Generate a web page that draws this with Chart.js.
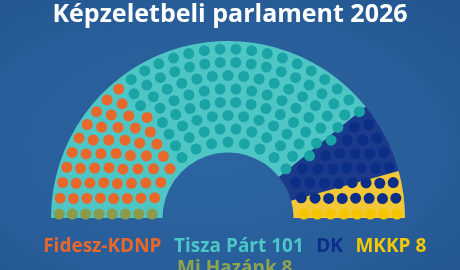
<!DOCTYPE html>
<html>
<head>
<meta charset="utf-8">
<script src="https://cdn.jsdelivr.net/npm/chart.js@4.4.1/dist/chart.umd.min.js"></script>
<style>
html,body{margin:0;padding:0;}
body{width:460px;height:270px;overflow:hidden;position:relative;
  background:radial-gradient(ellipse at 45% 55%, #2c65a2 0%, #285e9a 60%, #23558e 100%);}
#bands{position:absolute;left:51px;top:41px;}
#seats{position:absolute;left:0;top:0;}
</style>
</head>
<body>
<canvas id="bands" width="354" height="177"></canvas>
<canvas id="seats" width="460" height="270"></canvas>
<script>
// seats per party, left to right in the hemicycle
var parties = ['Mi Hazánk', 'Fidesz-KDNP', 'Tisza Párt', 'DK', 'MKKP'];
var seats = [8, 49, 101, 33, 8];
var seatColors = ['#8a9b4b', '#e8672a', '#1ba4a5', '#0b2e86', '#f5c600'];

// legend, in the order it is shown under the chart
var legendLabels = ['Fidesz-KDNP', 'Tisza Párt 101', 'DK', 'MKKP 8', 'Mi Hazánk 8'];
var legendColors = ['#e8672a', '#4cc6c6', '#0d2d8a', '#f5c800', '#8ea44f'];

// coloured bands behind the seats (shares of the half circle)
var bandLabels = ['Tisza Párt', 'DK', 'MKKP'];
var bandValues = [156, 26, 17];
var bandColors = ['#4ec6c6', '#1b3a8c', '#f2c838'];

var title = 'Képzeletbeli parlament 2026';

// band layer
new Chart(document.getElementById('bands'), {
  type: 'doughnut',
  data: {
    labels: bandLabels,
    datasets: [{ data: bandValues, backgroundColor: bandColors, borderWidth: 0 }]
  },
  options: {
    responsive: false,
    animation: false,
    rotation: -90,
    circumference: 180,
    cutout: '37%',
    layout: { padding: 0 },
    plugins: { legend: { display: false }, tooltip: { enabled: false } }
  }
});

// seat layout: rows of dots, sorted by angle, filled party by party
var cx = 228, cy = 218, rIn = 76, rOut = 169, rows = 8;
var total = 0;
for (var i = 0; i < seats.length; i++) total += seats[i];
var radii = [], sumR = 0;
for (var i = 0; i < rows; i++) {
  var r = rIn + (rOut - rIn) * i / (rows - 1);
  radii.push(r);
  sumR += r;
}
var counts = [], used = 0;
for (var i = 0; i < rows; i++) {
  counts.push(Math.round(total * radii[i] / sumR));
  used += counts[i];
}
counts[rows - 1] += total - used;

var spots = [];
for (var i = 0; i < rows; i++) {
  var r = radii[i], n = counts[i], d = 4 / r;
  for (var j = 0; j < n; j++) {
    var a = Math.PI - d - (Math.PI - 2 * d) * j / (n - 1);
    spots.push({ a: a, x: cx + r * Math.cos(a), y: cy - r * Math.sin(a) });
  }
}
spots.sort(function(p, q) { return q.a - p.a; });

var datasets = [], k = 0;
for (var p = 0; p < parties.length; p++) {
  var pts = [];
  for (var s = 0; s < seats[p]; s++) {
    pts.push({ x: spots[k].x, y: spots[k].y });
    k++;
  }
  datasets.push({
    label: parties[p],
    data: pts,
    backgroundColor: seatColors[p],
    pointRadius: 5.5,
    pointBorderWidth: 0,
    clip: false
  });
}

var seatChart = new Chart(document.getElementById('seats'), {
  type: 'scatter',
  data: { datasets: datasets },
  options: {
    responsive: false,
    animation: false,
    layout: { padding: { top: 0, left: 0, right: 0, bottom: -18 } },
    scales: {
      x: { display: false, min: 0, max: 460 },
      y: { display: false, min: 0, max: 270, reverse: true }
    },
    plugins: {
      tooltip: { enabled: false },
      title: {
        display: true,
        text: title,
        color: '#ffffff',
        font: { family: 'Open Sans', size: 25, weight: 'bold' },
        padding: { top: 0, bottom: 4 }
      },
      legend: {
        position: 'bottom',
        labels: {
          boxWidth: 0,
          padding: 3,
          font: { family: 'Open Sans', size: 19, weight: 'bold' },
          generateLabels: function() {
            return legendLabels.map(function(t, i) {
              return { text: t, fontColor: legendColors[i], fillStyle: 'rgba(0,0,0,0)',
                strokeStyle: 'rgba(0,0,0,0)', lineWidth: 0, hidden: false };
            });
          }
        }
      }
    }
  }
});

// map the hidden scales onto page pixels so the seat positions line up with the bands
var area = seatChart.chartArea;
seatChart.options.scales.x.min = area.left;
seatChart.options.scales.x.max = area.right;
seatChart.options.scales.y.min = area.top;
seatChart.options.scales.y.max = area.bottom;
seatChart.update('none');
</script>
</body>
</html>
